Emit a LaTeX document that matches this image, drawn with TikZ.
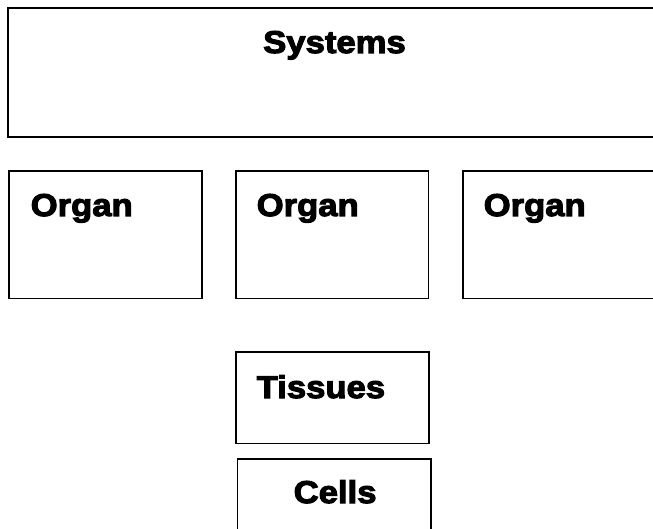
\documentclass[tikz,border=0pt]{standalone}
\usepackage{fontspec}
\newfontfamily\hfont[FakeBold=3.5,FakeStretch=1.1]{Liberation Sans Bold}
\begin{document}
\begin{tikzpicture}[x=1pt,y=-1pt,
  box/.style={draw=black, line width=1.4pt, rectangle, anchor=north west, inner sep=0pt, outer sep=0pt},
  lbl/.style={anchor=base west, inner sep=0pt, font=\hfont\fontsize{31.5}{36}\selectfont}]
\useasboundingbox (0,0) rectangle (653,529);
\clip (0,0) rectangle (653,529);
\node[box, minimum width=660pt, minimum height=129pt] (sys) at (8,8) {};
\node[box, minimum width=193pt, minimum height=127.5pt] (org1) at (9,171) {};
\node[box, minimum width=192.5pt, minimum height=127.5pt] (org2) at (236,171) {};
\node[box, minimum width=200pt, minimum height=127.5pt] (org3) at (463,171) {};
\node[box, minimum width=193pt, minimum height=91.5pt] (tis) at (236,352) {};
\node[box, minimum width=193.5pt, minimum height=90pt] (cel) at (237.5,459) {};
\node[lbl, anchor=base] (tsys) at (334.5,53) {Systems};
\node[lbl] (torg1) at (30.5,216) {Organ};
\node[lbl] (torg2) at (256.5,216) {Organ};
\node[lbl] (torg3) at (483.5,216) {Organ};
\node[lbl] (ttis) at (256.5,398) {Tissues};
\node[lbl] (tcel) at (293.5,503) {Cells};
\end{tikzpicture}
\end{document}
